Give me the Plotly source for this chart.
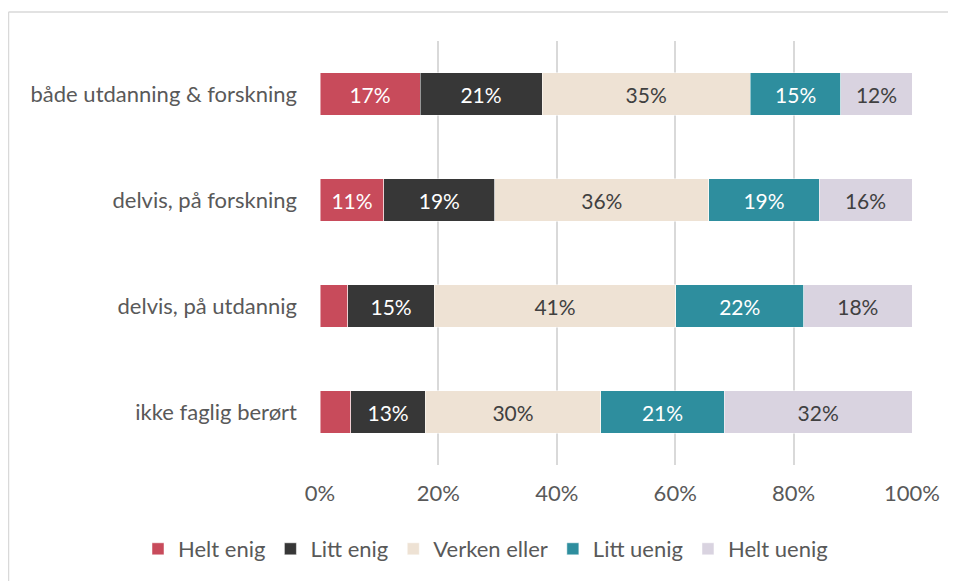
import plotly.graph_objects as go

categories = ["både utdanning & forskning", "delvis, på forskning", "delvis, på utdannig", "ikke faglig berørt"]
series_names = ["Helt enig", "Litt enig", "Verken eller", "Litt uenig", "Helt uenig"]
helt_enig = [16.9, 10.8, 4.7, 5.2]
litt_enig = [20.6, 18.7, 14.6, 12.6]
verken_eller = [35.2, 36.2, 40.8, 29.6]
litt_uenig = [15.3, 18.6, 21.6, 20.9]
helt_uenig = [12.0, 15.7, 18.3, 31.7]
tick_vals = [0, 20, 40, 60, 80, 100]
tick_text = ["0%", "20%", "40%", "60%", "80%", "100%"]

series = [helt_enig, litt_enig, verken_eller, litt_uenig, helt_uenig]
colors = ["#C84B5B", "#373737", "#EEE2D4", "#2E8E9E", "#D9D3E0"]
text_colors = ["#FFFFFF", "#FFFFFF", "#404040", "#FFFFFF", "#404040"]

FONT = "Lato"
fig = go.Figure()
for name, vals, col, tcol in zip(series_names, series, colors, text_colors):
    fig.add_trace(go.Bar(
        y=categories, x=vals, name=name, orientation="h",
        marker=dict(color=col, line=dict(color="rgba(255,255,255,0.6)", width=0.8)),
        text=[f"{round(v)}%" if v >= 8 else "" for v in vals],
        textposition="inside", insidetextanchor="middle",
        textfont=dict(family=FONT, size=21, color=tcol),
        hoverinfo="skip",
    ))

# page is offset by the browser's 8px body margin
OFF = 8
W, H = 956 - OFF, 581 - OFF
L, T = 320 - OFF, 41 - OFF
R = W - (912 - OFF)
B = H - (465 - OFF)
pw, ph = W - L - R, H - T - B

def px(x):
    return (x - OFF - L) / pw

def py(y):
    return (H - B - (y - OFF)) / ph

fig.update_layout(
    width=W, height=H, barmode="stack", bargap=0.6,
    margin=dict(l=L, r=R, t=T, b=B, autoexpand=False),
    paper_bgcolor="white", plot_bgcolor="white",
    font=dict(family=FONT, size=22, color="#595959"),
    xaxis=dict(range=[0, 100], tickvals=tick_vals, ticktext=tick_text,
               showgrid=True, gridcolor="#D9D9D9", gridwidth=2,
               zeroline=False, showline=False, ticks="",
               tickfont=dict(family=FONT, size=22, color="#595959"),
               ticklabelstandoff=13, fixedrange=True),
    yaxis=dict(categoryorder="array", categoryarray=categories, autorange="reversed",
               showgrid=False, zeroline=False, showline=False, ticks="",
               tickfont=dict(family=FONT, size=22, color="#595959"),
               ticklabelstandoff=22, fixedrange=True),
    legend=dict(orientation="h", x=px(138), xanchor="left", y=py(549), yanchor="middle",
                font=dict(family=FONT, size=22, color="#595959"),
                traceorder="normal", itemwidth=30),
    shapes=[
        dict(type="line", xref="paper", yref="paper", x0=px(8.5), x1=px(970), y0=py(12), y1=py(12),
             line=dict(color="#D9D9D9", width=1.5)),
        dict(type="line", xref="paper", yref="paper", x0=px(8.5), x1=px(8.5), y0=py(12), y1=py(600),
             line=dict(color="#D9D9D9", width=1.5)),
    ],
)

fig.write_html("out.html")
